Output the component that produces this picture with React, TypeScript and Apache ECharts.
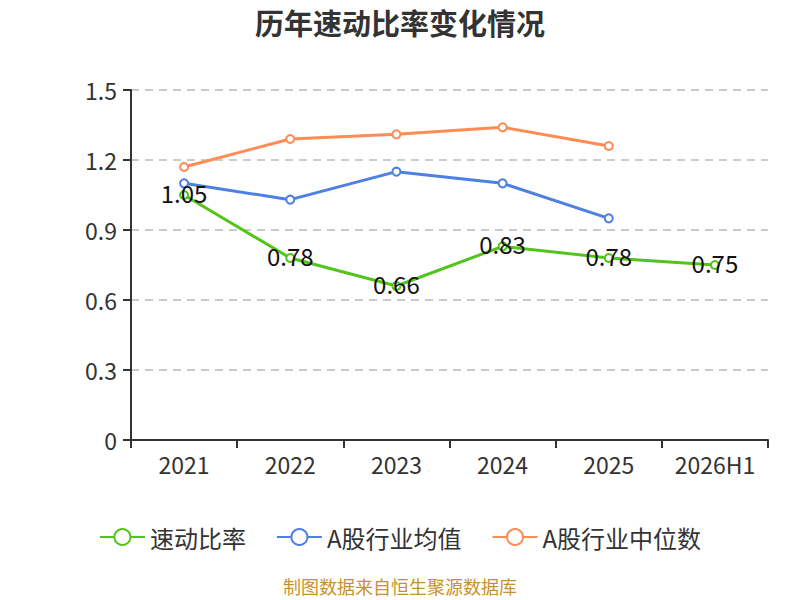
import React, { useEffect, useRef } from "react";
import * as echarts from "echarts";

const categories = ["2021", "2022", "2023", "2024", "2025", "2026H1"];
const quickRatio = [1.05, 0.78, 0.66, 0.83, 0.78, 0.75];
const industryAvg = [1.1, 1.03, 1.15, 1.1, 0.95, null];
const industryMedian = [1.17, 1.29, 1.31, 1.34, 1.26, null];

export default function App() {
  const ref = useRef<HTMLDivElement>(null);
  useEffect(() => {
    if (!ref.current) return;
    const chart = echarts.init(ref.current, undefined, { renderer: "svg" });
    const font = "'Noto Sans CJK SC', 'Noto Sans', sans-serif";
    chart.setOption({
      animation: false,
      textStyle: { fontFamily: font },
      title: {
        text: "历年速动比率变化情况",
        left: "center",
        top: 2,
        textStyle: { fontSize: 29, fontWeight: "bold", color: "#333", fontFamily: font },
      },
      grid: { left: 131, right: 32, top: 90, bottom: 160 },
      xAxis: {
        type: "category",
        data: categories,
        boundaryGap: true,
        axisLine: { lineStyle: { color: "#333", width: 2 } },
        axisTick: { show: true, length: 8, lineStyle: { color: "#333", width: 2 } },
        axisLabel: { fontSize: 23, color: "#333", margin: 12, fontFamily: font },
      },
      yAxis: {
        type: "value",
        min: 0,
        max: 1.5,
        interval: 0.3,
        axisLine: { show: true, lineStyle: { color: "#333", width: 2 } },
        axisTick: { show: true, length: 8, lineStyle: { color: "#333", width: 2 } },
        axisLabel: { fontSize: 23, color: "#333", margin: 14, fontFamily: font },
        splitLine: { lineStyle: { type: [8, 6], color: "#bbb", width: 1.5 } },
      },
      legend: {
        bottom: 46,
        left: "center",
        itemWidth: 45,
        itemHeight: 20,
        itemGap: 30,
        textStyle: { fontSize: 24, color: "#333", fontFamily: font },
        data: ["速动比率", "A股行业均值", "A股行业中位数"],
      },
      graphic: [
        {
          type: "text",
          left: "center",
          top: 577,
          style: {
            text: "制图数据来自恒生聚源数据库",
            fontSize: 18,
            fill: "#c8922a",
            fontFamily: font,
          },
        },
      ],
      series: [
        {
          name: "速动比率",
          type: "line",
          data: quickRatio,
          symbol: "emptyCircle",
          symbolSize: 8,
          lineStyle: { width: 3, color: "#52c41a" },
          itemStyle: { color: "#52c41a" },
          label: {
            show: true,
            position: "inside",
            offset: [0, -3],
            fontSize: 24,
            color: "#111",
            fontFamily: font,
            formatter: (p: any) => Number(p.value).toFixed(2),
          },
          z: 3,
        },
        {
          name: "A股行业均值",
          type: "line",
          data: industryAvg,
          symbol: "emptyCircle",
          symbolSize: 8,
          lineStyle: { width: 3, color: "#4e80e3" },
          itemStyle: { color: "#4e80e3" },
          z: 2,
        },
        {
          name: "A股行业中位数",
          type: "line",
          data: industryMedian,
          symbol: "emptyCircle",
          symbolSize: 8,
          lineStyle: { width: 3, color: "#ff8c55" },
          itemStyle: { color: "#ff8c55" },
          z: 2,
        },
      ],
    });
    return () => chart.dispose();
  }, []);
  return <div ref={ref} style={{ width: 800, height: 600, position: "absolute", left: 0, top: 0 }} />;
}
